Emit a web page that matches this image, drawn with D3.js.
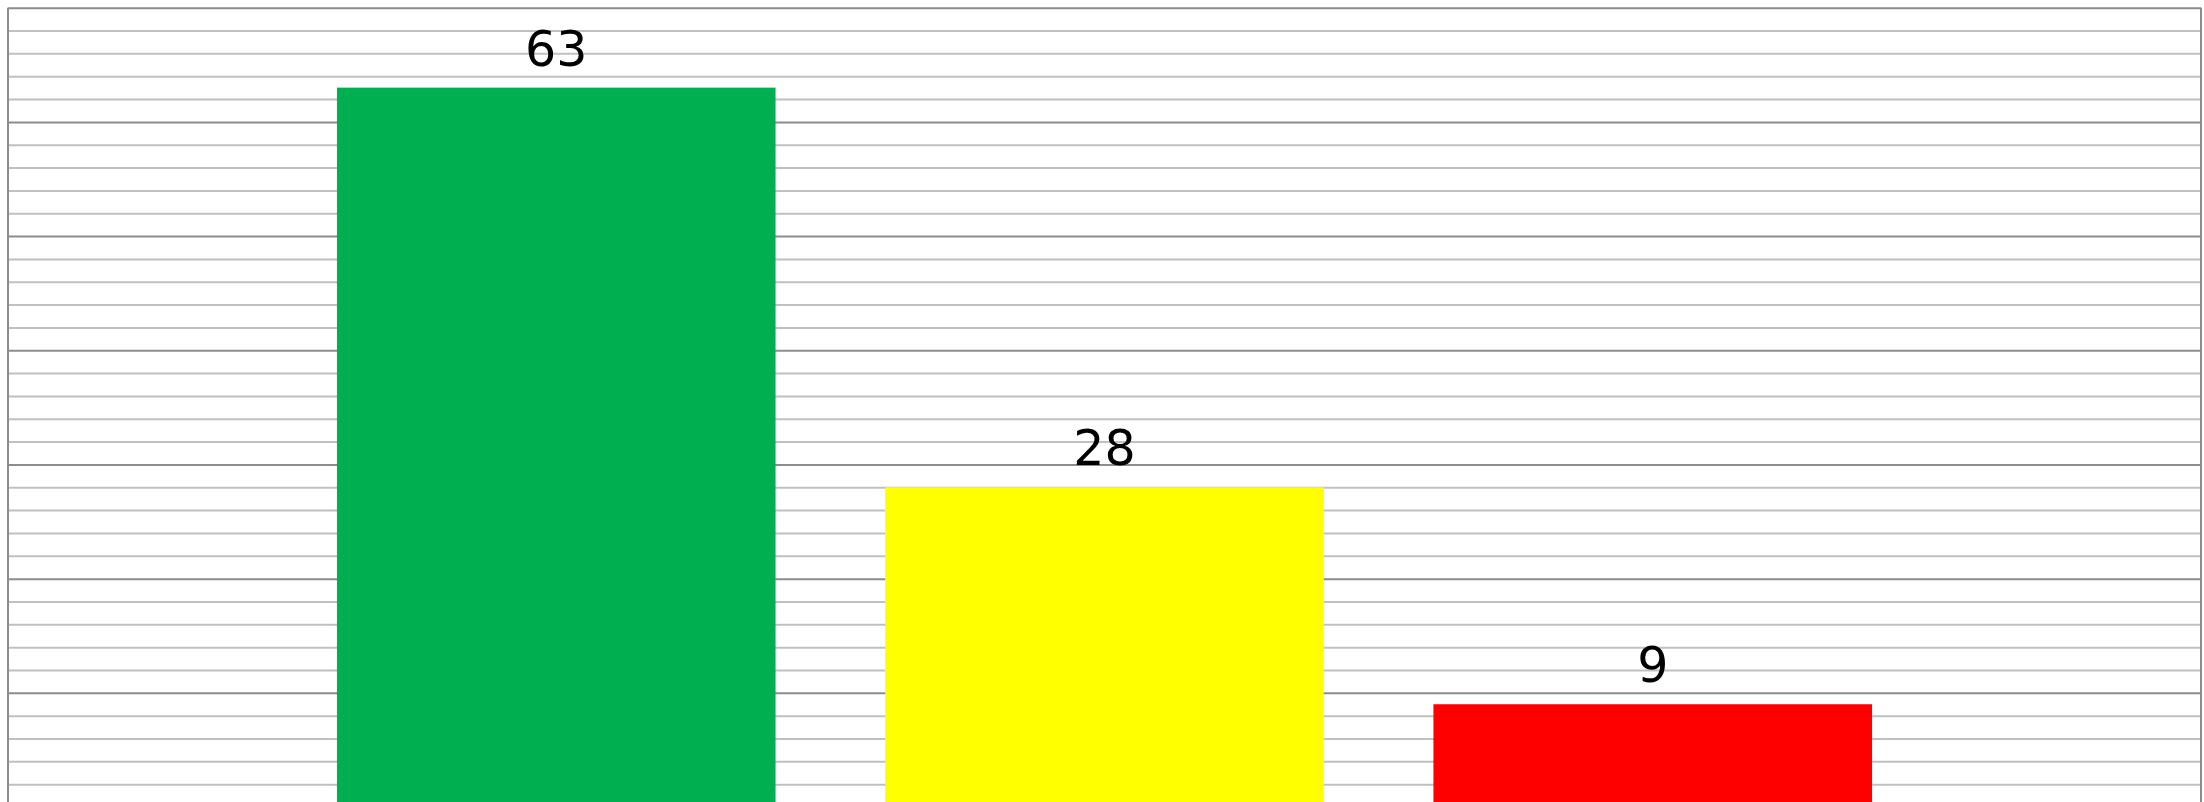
<!DOCTYPE html>
<html>
<head>
<meta charset="utf-8">
<script src="https://cdn.jsdelivr.net/npm/d3@7"></script>
<style>
  body { margin: 0; background: #fff; }
  svg { display: block; }
</style>
</head>
<body>
<div id="chart"></div>
<script>
var categories = ['Green', 'Yellow', 'Red'];
var values = [63, 28, 9];
var barColors = ['#00b050', '#ffff00', '#ff0000'];
var majorTicks = [0, 10, 20, 30, 40, 50, 60, 70];
var minorTicks = d3.range(0, 71, 2).filter(function(d) { return d % 10 !== 0; });

var W = 2204, H = 802;
var margin = {top: 7.7, right: 3, bottom: -5, left: 8};
var width = W - margin.left - margin.right,
    height = H - margin.top - margin.bottom;

var svg = d3.select('#chart').append('svg')
    .attr('width', W)
    .attr('height', H);

var g = svg.append('g')
    .attr('transform', 'translate(' + margin.left + ',' + margin.top + ')');

var yScale = d3.scaleLinear()
    .domain([0, 70])
    .range([height, 0]);

var xScale = d3.scaleBand()
    .domain(categories)
    .range([0, width])
    .paddingInner(0.2)
    .paddingOuter(0.6);

// minor grid
var minorGrid = g.append('g')
    .call(d3.axisLeft(yScale).tickValues(minorTicks).tickSize(-width).tickFormat(''));
minorGrid.select('.domain').remove();
minorGrid.selectAll('line').attr('stroke', '#c0c0c0').attr('stroke-width', 2);

// major grid
var majorGrid = g.append('g')
    .call(d3.axisLeft(yScale).tickValues(majorTicks).tickSize(-width).tickFormat(''));
majorGrid.select('.domain').remove();
majorGrid.selectAll('line').attr('stroke', '#8c8c8c').attr('stroke-width', 2);

// bars
g.selectAll('rect.bar').data(values)
  .enter().append('rect')
    .attr('class', 'bar')
    .attr('x', function(d, i) { return xScale(categories[i]); })
    .attr('width', xScale.bandwidth())
    .attr('y', function(d) { return yScale(d); })
    .attr('height', function(d) { return height - yScale(d); })
    .style('fill', function(d, i) { return barColors[i]; });

// value labels
g.selectAll('text.label').data(values)
  .enter().append('text')
    .attr('class', 'label')
    .attr('x', function(d, i) { return xScale(categories[i]) + xScale.bandwidth() / 2; })
    .attr('y', function(d) { return yScale(d) - 22; })
    .attr('text-anchor', 'middle')
    .style('font-family', '"DejaVu Sans", Verdana, sans-serif')
    .style('font-size', '49px')
    .style('fill', '#000')
    .text(function(d) { return d; });

// left and right borders
g.append('line')
    .attr('x1', 0).attr('x2', 0)
    .attr('y1', 0).attr('y2', height)
    .attr('stroke', '#8c8c8c').attr('stroke-width', 2);
g.append('line')
    .attr('x1', width).attr('x2', width)
    .attr('y1', 0).attr('y2', height)
    .attr('stroke', '#8c8c8c').attr('stroke-width', 2);
</script>
</body>
</html>
